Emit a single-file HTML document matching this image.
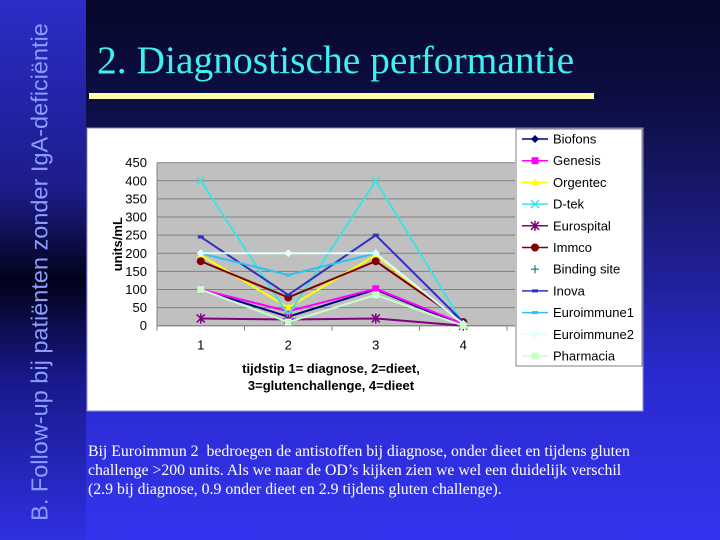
<!DOCTYPE html>
<html><head><meta charset="utf-8"><style>
body{margin:0;width:720px;height:540px;overflow:hidden;font-family:"Liberation Sans",sans-serif}
#bg{position:absolute;left:0;top:0;width:720px;height:540px;background:linear-gradient(180deg,#06072a 0%,#0d0f45 20%,#1a1a78 40%,#2a2ad0 70%,#3434ee 100%)}
#side{position:absolute;left:0;top:0;width:86px;height:540px;background:linear-gradient(180deg,#2c2cc8 0%,#1c1c8a 35%,#02021a 52%,#18188a 70%,#3030e0 100%)}
#sidetext{position:absolute;left:40px;top:272px;transform:translate(-50%,-50%) rotate(-90deg);white-space:nowrap;font-size:23.5px;color:#8a9cff}
#title{position:absolute;left:97px;top:37px;font-family:"Liberation Serif",serif;font-size:39.5px;color:#3ff0f0}
#rule{position:absolute;left:89px;top:93px;width:505px;height:6px;background:#ffffa8}
#para{position:absolute;left:88px;top:442px;width:560px;font-family:"Liberation Serif",serif;font-size:15.8px;line-height:19px;color:#fff}
svg{position:absolute;left:0;top:0}
</style></head><body>
<div id="bg"></div>
<div id="side"><div id="sidetext">B. Follow-up bij patiënten zonder IgA-deficiëntie</div></div>
<div id="title">2. Diagnostische performantie</div>
<div id="rule"></div>
<div id="para">Bij Euroimmun 2 &nbsp;bedroegen de antistoffen bij diagnose, onder dieet en tijdens gluten challenge &gt;200 units. Als we naar de OD’s kijken zien we wel een duidelijk verschil (2.9 bij diagnose, 0.9 onder dieet en 2.9 tijdens gluten challenge).</div>
<svg id="chart" width="720" height="540"></svg>
<script>
const categories=["1","2","3","4"];
const yTicks=[0,50,100,150,200,250,300,350,400,450];
const seriesNames=["Biofons","Genesis","Orgentec","D-tek","Eurospital","Immco","Binding site","Inova","Euroimmune1","Euroimmune2","Pharmacia"];
const seriesColors=["#000080","#ff00ff","#ffff00","#40e0e0","#800080","#800000","#008080","#3030c0","#30c0f0","#e0ffff","#c8ffc8"];
const seriesMarkers=["diamond","square","triangle","x","star","circle","plus","dash","dash","diamond","square"];
const biofons=[100,25,100,0];
const genesis=[100,40,102,5];
const orgentec=[195,50,195,5];
const dtek=[400,30,400,5];
const eurospital=[20,17,20,0];
const immco=[178,78,178,10];
const bindingSite=[];
const inova=[245,85,250,10];
const euroimmune1=[200,140,200,5];
const euroimmune2=[200,200,200,5];
const pharmacia=[100,10,85,0];
const seriesValues=[biofons,genesis,orgentec,dtek,eurospital,immco,bindingSite,inova,euroimmune1,euroimmune2,pharmacia];

const NS="http://www.w3.org/2000/svg";
const svg=document.getElementById('chart');
const PL=157,PR=507,PT=162.7,PB=325.7,YMAX=450;
function x(i){return PL+(i+0.5)*(PR-PL)/categories.length;}
function y(v){return PB-(v/YMAX)*(PB-PT);}
function mk(t,a){const e=document.createElementNS(NS,t);for(const k in a)e.setAttribute(k,a[k]);svg.appendChild(e);return e;}
let r=mk('rect',{x:87,y:128,width:556,height:283,fill:'#fff',stroke:'#9090c0'});


r=mk('rect',{x:PL,y:PT,width:515-PL,height:PB-PT,fill:'#c0c0c0'});


yTicks.forEach(v=>{
  const g=mk('line',{x1:PL,x2:515,y1:y(v),y2:y(v),stroke:'#808080','stroke-width':1});
  
  
  const t=mk('text',{x:PL-10,y:y(v)+4.5,'text-anchor':'end','font-size':13,fill:'#000'});t.textContent=v;
  
  
});
mk('line',{x1:PL,x2:PL,y1:PT,y2:PB,stroke:'#808080'});
mk('line',{x1:PL,x2:515,y1:PB,y2:PB,stroke:'#808080'});
for(let i=0;i<=categories.length;i++){const xx=PL+i*(PR-PL)/categories.length;mk('line',{x1:xx,x2:xx,y1:PB,y2:PB+5,stroke:'#808080'});}
categories.forEach((c,i)=>{const t=mk('text',{x:x(i),y:PB+24,'text-anchor':'middle','font-size':13});t.textContent=c;
  
  });
let t=mk('text',{x:0,y:0,transform:`translate(122,${(PT+PB)/2}) rotate(-90)`,'text-anchor':'middle','font-size':13,'font-weight':'bold'});t.textContent='units/mL';


t=mk('text',{x:331,y:373,'text-anchor':'middle','font-size':13,'font-weight':'bold'});t.textContent='tijdstip 1= diagnose, 2=dieet,';


t=mk('text',{x:331,y:390,'text-anchor':'middle','font-size':13,'font-weight':'bold'});t.textContent='3=glutenchallenge, 4=dieet';


function marker(type,cx,cy,col){
  let e;
  if(type==='diamond')e=mk('polygon',{points:`${cx},${cy-4} ${cx+4},${cy} ${cx},${cy+4} ${cx-4},${cy}`,fill:col});
  else if(type==='square')e=mk('rect',{x:cx-3.5,y:cy-3.5,width:7,height:7,fill:col});
  else if(type==='triangle')e=mk('polygon',{points:`${cx},${cy-4} ${cx+4},${cy+3} ${cx-4},${cy+3}`,fill:col});
  else if(type==='circle')e=mk('circle',{cx:cx,cy:cy,r:4,fill:col});
  else if(type==='dash')e=mk('line',{x1:cx-3,x2:cx+3,y1:cy,y2:cy,stroke:col,'stroke-width':3});
  else if(type==='plus')e=mk('path',{d:`M${cx-4},${cy}H${cx+4}M${cx},${cy-4}V${cy+4}`,stroke:col,'stroke-width':1.2});
  else if(type==='x')e=mk('path',{d:`M${cx-4},${cy-4}L${cx+4},${cy+4}M${cx-4},${cy+4}L${cx+4},${cy-4}`,stroke:col,'stroke-width':1.5});
  else e=mk('path',{d:`M${cx-4},${cy-4}L${cx+4},${cy+4}M${cx-4},${cy+4}L${cx+4},${cy-4}M${cx},${cy-5}V${cy+5}`,stroke:col,'stroke-width':1.5});
  return e;
}
seriesValues.forEach((vals,s)=>{
  if(!vals.length)return;
  const pl=mk('polyline',{points:vals.map((v,i)=>x(i)+','+y(v)).join(' '),fill:'none',stroke:seriesColors[s],'stroke-width':2});
  
  
  vals.forEach((v,i)=>{const m=marker(seriesMarkers[s],x(i),y(v),seriesColors[s]);
    
    });
});
r=mk('rect',{x:516,y:129,width:126,height:237,fill:'#fff',stroke:'#808080'});


seriesNames.forEach((n,s)=>{
  const ly=139+s*21.7;
  if(seriesValues[s].length)mk('line',{x1:522,x2:548,y1:ly,y2:ly,stroke:seriesColors[s],'stroke-width':1.5});
  marker(seriesMarkers[s],535,ly,seriesColors[s]);
  const lt=mk('text',{x:553,y:ly+4.5,'font-size':13});lt.textContent=n;
  
  
});
</script>
</body></html>
